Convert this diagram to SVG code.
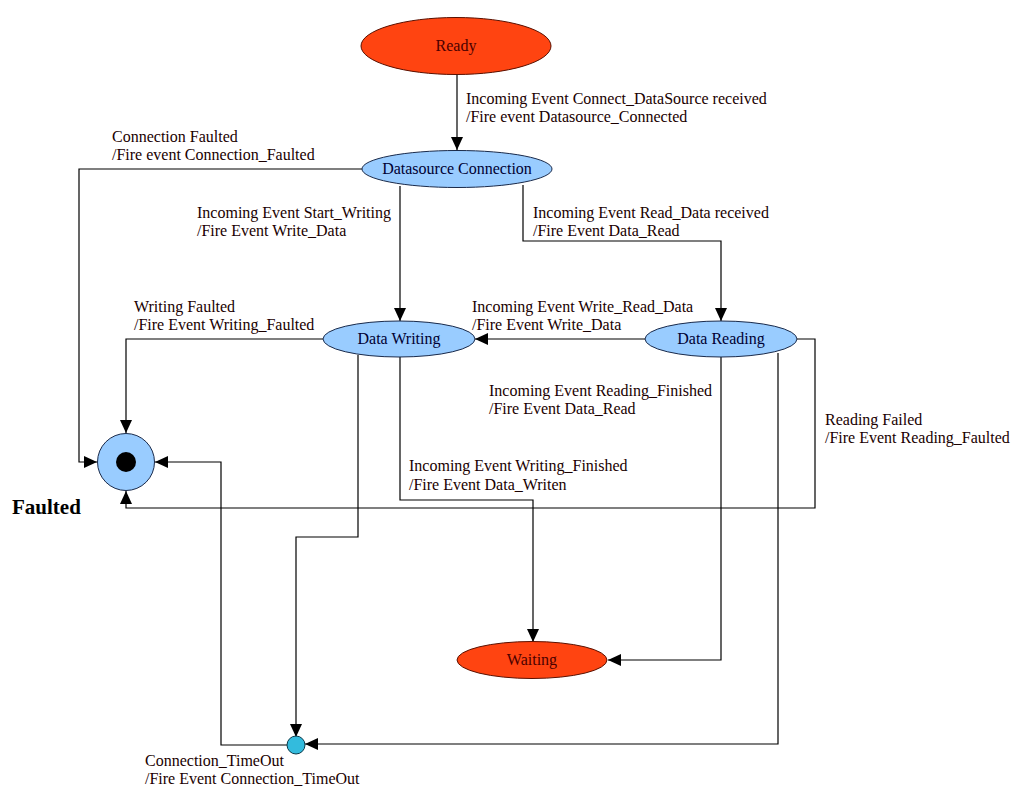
<svg xmlns="http://www.w3.org/2000/svg" width="1025" height="802" viewBox="0 0 1025 802">
<style>
.t{fill:#1a0000}
.n{text-anchor:middle}
.red{fill:#ff4411;stroke:#5a1000;stroke-width:1}
.blue{fill:#99ccff;stroke:#1a2a4a;stroke-width:1}
.c{fill:none;stroke:#000;stroke-width:1.2}
</style>
<defs>
<marker id="ah" markerUnits="userSpaceOnUse" markerWidth="14" markerHeight="12" refX="13" refY="6" orient="auto">
<path d="M0,0 L13,6 L0,12 z" fill="#000"/>
</marker>
</defs>
<rect width="1025" height="802" fill="#fff"/>
<g id="connectors">
<path class="c" d="M457,75 V150" marker-end="url(#ah)"/>
<path class="c" d="M362,169 H79 V462 H97" marker-end="url(#ah)"/>
<path class="c" d="M400,186 V321" marker-end="url(#ah)"/>
<path class="c" d="M523,185 V241 H721 V321" marker-end="url(#ah)"/>
<path class="c" d="M646,339 H475" marker-end="url(#ah)"/>
<path class="c" d="M323,339 H126 V433" marker-end="url(#ah)"/>
<path class="c" d="M797,339 H815 V508 H126 V491" marker-end="url(#ah)"/>
<path class="c" d="M721,357 V660 H608" marker-end="url(#ah)"/>
<path class="c" d="M778,353 V744 H305" marker-end="url(#ah)"/>
<path class="c" d="M400,357 V500 H533 V642" marker-end="url(#ah)"/>
<path class="c" d="M358,355 V537 H296 V737" marker-end="url(#ah)"/>
<path class="c" d="M287,745 H221 V462 H155" marker-end="url(#ah)"/>
</g>
<g font-family="'Liberation Serif', 'Times New Roman', serif" font-size="16">
<g id="ready"><ellipse class="red" cx="456" cy="46" rx="95" ry="28.5"/><text class="n" x="456" y="51" fill="#4a0000">Ready</text></g>
<g id="datasource"><ellipse class="blue" cx="457" cy="169" rx="95" ry="18.5"/><text class="n" x="457" y="174" fill="#000033">Datasource Connection</text></g>
<g id="writing"><ellipse class="blue" cx="399" cy="339" rx="76" ry="18"/><text class="n" x="399" y="344" fill="#000033">Data Writing</text></g>
<g id="reading"><ellipse class="blue" cx="721" cy="339" rx="76" ry="18"/><text class="n" x="721" y="344" fill="#000033">Data Reading</text></g>
<g id="waiting"><ellipse class="red" cx="532" cy="660" rx="75" ry="18.5"/><text class="n" x="532" y="665" fill="#4a0000">Waiting</text></g>
<g id="faulted"><circle class="blue" cx="126" cy="462" r="28.5" stroke="#000"/><circle cx="126" cy="462" r="10" fill="#000"/><text x="12" y="514" font-size="21" font-weight="bold">Faulted</text></g>
<g id="timeout"><circle cx="296" cy="745" r="9" fill="#33bbdd" stroke="#0a3a4a"/></g>
<g id="labels">
<text class="t" x="466" y="104">Incoming Event Connect_DataSource received</text>
<text class="t" x="466" y="122">/Fire event Datasource_Connected</text>
<text class="t" x="112" y="142">Connection Faulted</text>
<text class="t" x="112" y="160">/Fire event Connection_Faulted</text>
<text class="t" x="197" y="218">Incoming Event Start_Writing</text>
<text class="t" x="197" y="236">/Fire Event Write_Data</text>
<text class="t" x="533" y="218">Incoming Event Read_Data received</text>
<text class="t" x="533" y="236">/Fire Event Data_Read</text>
<text class="t" x="134" y="312">Writing Faulted</text>
<text class="t" x="134" y="330">/Fire Event Writing_Faulted</text>
<text class="t" x="472" y="312">Incoming Event Write_Read_Data</text>
<text class="t" x="472" y="330">/Fire Event Write_Data</text>
<text class="t" x="489" y="396">Incoming Event Reading_Finished</text>
<text class="t" x="489" y="414">/Fire Event Data_Read</text>
<text class="t" x="825" y="425">Reading Failed</text>
<text class="t" x="825" y="443">/Fire Event Reading_Faulted</text>
<text class="t" x="409" y="471">Incoming Event Writing_Finished</text>
<text class="t" x="409" y="490">/Fire Event Data_Writen</text>
<text class="t" x="145" y="766">Connection_TimeOut</text>
<text class="t" x="145" y="784">/Fire Event Connection_TimeOut</text>
</g>
</g>
</svg>
